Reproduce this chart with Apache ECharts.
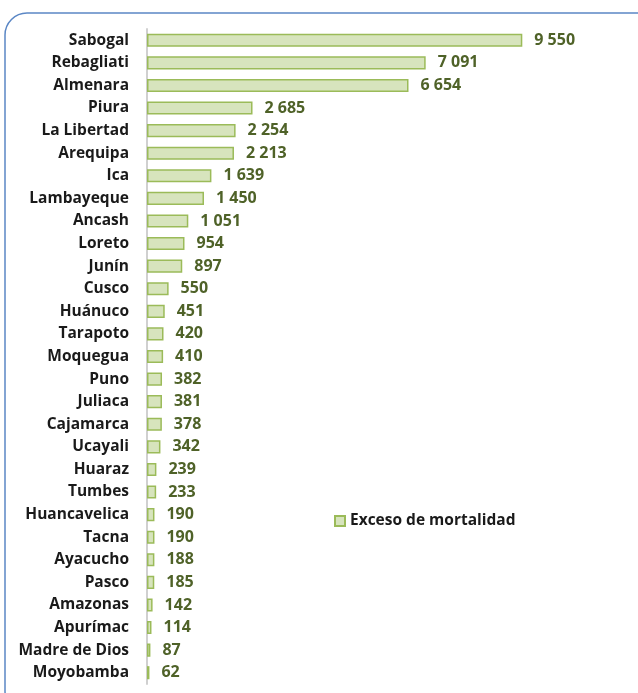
<!DOCTYPE html>
<html><head><meta charset="utf-8">
<script src="https://cdn.jsdelivr.net/npm/echarts@6/dist/echarts.min.js"></script>
<style>html,body{margin:0;padding:0;background:#fff}#c{width:638px;height:693px}</style>
</head><body><div id="c"></div>
<script>
var categories = ["Sabogal","Rebagliati","Almenara","Piura","La Libertad","Arequipa","Ica","Lambayeque","Ancash","Loreto","Junín","Cusco","Huánuco","Tarapoto","Moquegua","Puno","Juliaca","Cajamarca","Ucayali","Huaraz","Tumbes","Huancavelica","Tacna","Ayacucho","Pasco","Amazonas","Apurímac","Madre de Dios","Moyobamba"];
var values = [9550,7091,6654,2685,2254,2213,1639,1450,1051,954,897,550,451,420,410,382,381,378,342,239,233,190,190,188,185,142,114,87,62];
var seriesName = "Exceso de mortalidad";

function fmt(v){ return String(v).replace(/\B(?=(\d{3})+(?!\d))/g, ' '); }

var chart = echarts.init(document.getElementById('c'), null, {renderer:'canvas'});
chart.setOption({
  animation:false,
  backgroundColor:'#ffffff',
  graphic:[{type:'rect', shape:{x:5,y:13,width:660,height:700,r:22}, style:{fill:'none',stroke:'#5b87c5',lineWidth:1.5}, silent:true, z:-1}],
  grid:{left:147, right:98, top:29, bottom:9, containLabel:false},
  legend:{data:[seriesName], left:329, top:508, itemWidth:10, itemHeight:10, icon:'rect', itemGap:6,
    textStyle:{fontFamily:'Open Sans', fontWeight:'bold', fontSize:15.5, color:'#1a1a1a'}},
  xAxis:{type:'value', min:0, max:10000, show:false},
  yAxis:{type:'category', data:categories, inverse:true,
    axisLine:{show:true, lineStyle:{color:'#d0d0d0', width:2}},
    axisTick:{show:false},
    axisLabel:{margin:18, fontFamily:'Open Sans', fontWeight:'bold', fontSize:15.5, color:'#1a1a1a'}},
  series:[{name:seriesName, type:'bar', data:values, barCategoryGap:'42%',
    itemStyle:{color:'#d7e4bd', borderColor:'#9bbb59', borderWidth:1.5},
    label:{show:true, position:'right', distance:12, formatter:function(p){return fmt(p.value);},
      fontFamily:'Open Sans', fontWeight:'bold', fontSize:16, color:'#4f6228'}}]
});
</script></body></html>
